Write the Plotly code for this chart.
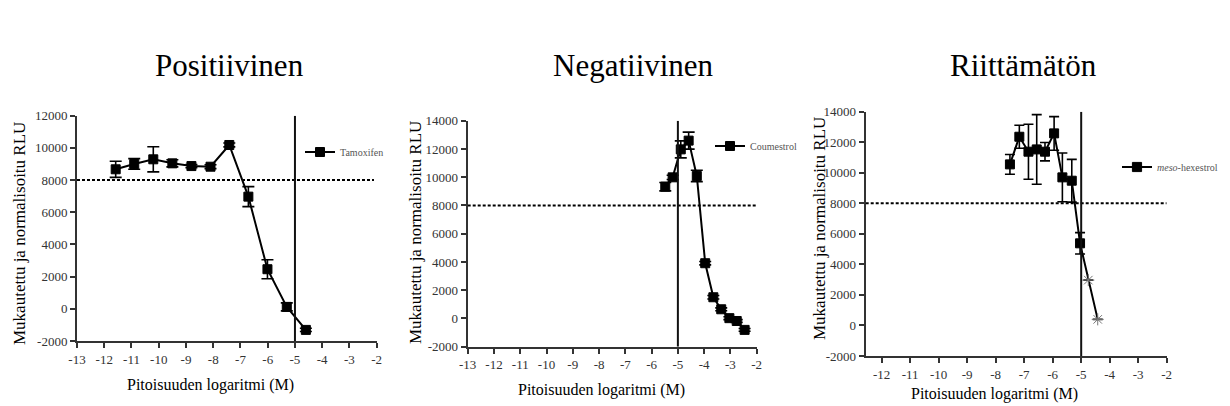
import plotly.graph_objects as go

# ---------------- data ----------------
titles = ["Positiivinen", "Negatiivinen", "Riittämätön"]
x_title = "Pitoisuuden logaritmi (M)"
y_title = "Mukautettu ja normalisoitu RLU"

tam_x = [-11.58, -10.9, -10.2, -9.5, -8.8, -8.1, -7.41, -6.71, -6.01, -5.3, -4.6]
tam_y = [8670, 9000, 9290, 9040, 8870, 8830, 10180, 6970, 2460, 120, -1310]
tam_err = [500, 330, 780, 220, 100, 120, 120, 620, 590, 250, 100]

cou_x = [-5.48, -5.2, -4.89, -4.59, -4.28, -3.96, -3.65, -3.35, -3.04, -2.76, -2.46]
cou_y = [9330, 9990, 11970, 12590, 10090, 3910, 1500, 650, 20, -180, -810]
cou_err = [300, 150, 600, 600, 400, 120, 120, 100, 100, 100, 100]

mes_x = [-7.5, -7.17, -6.85, -6.56, -6.27, -5.95, -5.66, -5.33, -5.04, -4.75, -4.42]
mes_y = [10550, 12360, 11380, 11530, 11380, 12580, 9700, 9480, 5380, 2970, 400]
mes_err = [650, 750, 1800, 2280, 600, 1100, 1600, 1400, 700, 0, 0]
mes_sym = ["square"] * 9 + ["asterisk-open"] * 2

series_names = ["Tamoxifen", "Coumestrol", "<i>meso</i>-hexestrol"]

x_ticks_12 = [-13, -12, -11, -10, -9, -8, -7, -6, -5, -4, -3, -2]
x_ticks_3 = [-12, -11, -10, -9, -8, -7, -6, -5, -4, -3, -2]
y_ticks_1 = [-2000, 0, 2000, 4000, 6000, 8000, 10000, 12000]
y_ticks_23 = [-2000, 0, 2000, 4000, 6000, 8000, 10000, 12000, 14000]

threshold = 8000
cutoff = -5

# ---------------- figure ----------------
OFF = 8  # page body margin
W, H = 1230 - OFF, 406 - OFF
FONT = "Liberation Serif, Times New Roman, serif"
AX = "#333333"
TICKC = "#333333"

def px(x):
    return (x - OFF) / W

def py(y):
    return 1 - (y - OFF) / H

panels = [
    dict(xd=(77, 376.7), yd=(341, 115.7), xr=[-13, -2], yr=[-2000, 12000],
         xt=x_ticks_12, yt=y_ticks_1, x=tam_x, y=tam_y, e=tam_err, sym=["square"] * 11,
         name=series_names[0], legpos=(300, 152), cap=6,
         title=(229, 66), xtit=(210, 385), ytit=(19, 234), dot_end=-2.1),
    dict(xd=(467.7, 756.7), yd=(346.7, 120.7), xr=[-13, -2], yr=[-2000, 14000],
         xt=x_ticks_12, yt=y_ticks_23, x=cou_x, y=cou_y, e=cou_err, sym=["square"] * 11,
         name=series_names[1], legpos=(710, 146), cap=6,
         title=(633, 66), xtit=(601, 390), ytit=(416, 233), dot_end=-2.0),
    dict(xd=(865.7, 1166.7), yd=(356, 111.7), xr=[-12.56, -2], yr=[-2000, 14000],
         xt=x_ticks_3, yt=y_ticks_23, x=mes_x, y=mes_y, e=mes_err, sym=mes_sym,
         name=series_names[2], legpos=(1117, 167), cap=5,
         title=(1024, 66), xtit=(994, 394), ytit=(819, 229), dot_end=-2.0),
]

fig = go.Figure()
layout = dict(
    width=W, height=H, autosize=False,
    margin=dict(l=0, r=0, t=0, b=0, autoexpand=False),
    paper_bgcolor="white", plot_bgcolor="white",
    font=dict(family=FONT, color="black"),
    showlegend=True,
    shapes=[], annotations=[],
)

for i, p in enumerate(panels):
    k = "" if i == 0 else str(i + 1)
    xa, ya = "x" + k, "y" + k
    leg = "legend" if i == 0 else "legend" + str(i + 1)
    colors = ["black" if s == "square" else "#777777" for s in p["sym"]]
    fig.add_trace(go.Scatter(
        x=p["x"], y=p["y"], xaxis=xa, yaxis=ya, name=p["name"], legend=leg,
        mode="lines+markers", showlegend=True,
        line=dict(color="black", width=2),
        marker=dict(symbol=p["sym"], size=[9 if s == "square" else 10 for s in p["sym"]],
                    color=colors, opacity=1, line=dict(color=colors, width=1)),
        error_y=dict(type="data", array=p["e"], visible=True, color="black",
                     thickness=1.6, width=p["cap"]),
        cliponaxis=False,
    ))
    axis_common = dict(showline=True, linecolor=AX, linewidth=2, ticks="outside",
                       ticklen=5, tickwidth=1.5, tickcolor=AX, showgrid=False,
                       zeroline=False,
                       tickfont=dict(family=FONT, size=13, color=TICKC))
    layout["xaxis" + k] = dict(axis_common, domain=[px(p["xd"][0]), px(p["xd"][1])],
                               range=p["xr"], anchor=ya, tickvals=p["xt"],
                               ticktext=[str(v) for v in p["xt"]])
    layout["yaxis" + k] = dict(axis_common, domain=[py(p["yd"][0]), py(p["yd"][1])],
                               range=p["yr"], anchor=xa, tickvals=p["yt"],
                               ticktext=[str(v) for v in p["yt"]])
    layout[leg] = dict(x=px(p["legpos"][0]), y=py(p["legpos"][1]), xanchor="left",
                       yanchor="middle", bgcolor="rgba(0,0,0,0)", visible=True,
                       font=dict(family=FONT, size=10, color="#555555"))
    # reference lines
    layout["shapes"].append(dict(type="line", xref=xa, yref=ya, x0=p["xr"][0], x1=p["dot_end"],
                                 y0=threshold, y1=threshold,
                                 line=dict(color="black", width=2, dash="3px,2px")))
    layout["shapes"].append(dict(type="line", xref=xa, yref=ya, x0=cutoff, x1=cutoff,
                                 y0=p["yr"][0], y1=p["yr"][1],
                                 line=dict(color="#111111", width=2)))
    # titles
    layout["annotations"].append(dict(text=titles[i], x=px(p["title"][0]), y=py(p["title"][1]),
                                      xref="paper", yref="paper", showarrow=False,
                                      xanchor="center", yanchor="middle",
                                      font=dict(family=FONT, size=31, color="black")))
    layout["annotations"].append(dict(text=x_title, x=px(p["xtit"][0]), y=py(p["xtit"][1]),
                                      xref="paper", yref="paper", showarrow=False,
                                      xanchor="center", yanchor="middle",
                                      font=dict(family=FONT, size=16, color="black")))
    layout["annotations"].append(dict(text=y_title, x=px(p["ytit"][0]), y=py(p["ytit"][1]),
                                      xref="paper", yref="paper", showarrow=False,
                                      xanchor="center", yanchor="middle", textangle=-90,
                                      font=dict(family=FONT, size=17, color="black")))

fig.update_layout(**layout)
fig.write_html("out.html")
